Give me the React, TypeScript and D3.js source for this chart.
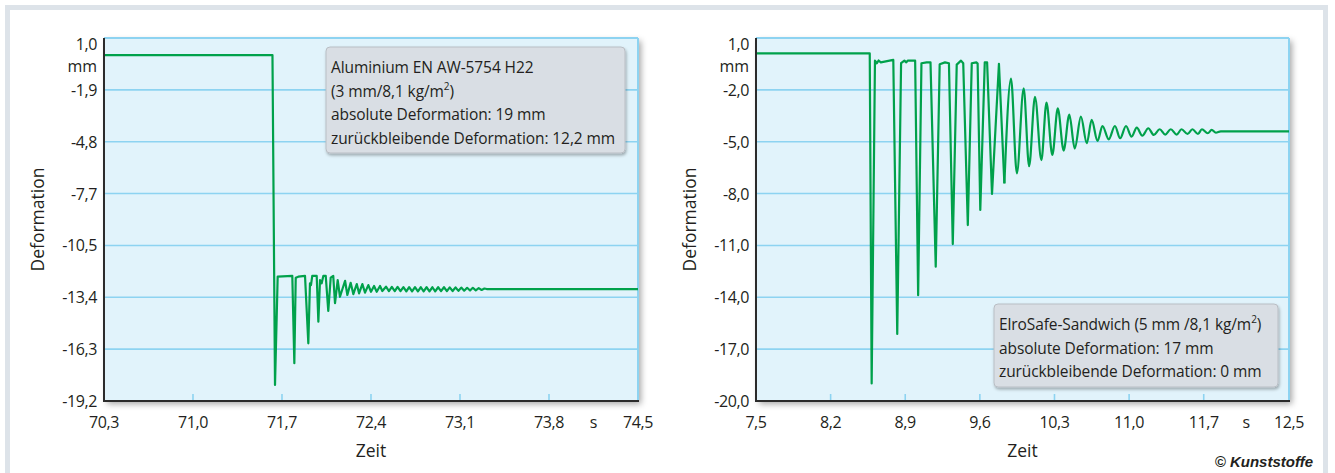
import React from "react";
import * as d3 from "d3";

// ---------- data ----------
const leftTime = [
  70.3, 71.625, 71.645, 71.666, 71.781, 71.797, 71.808, 71.828, 71.881, 71.907, 71.92, 71.928, 71.938,
  71.973, 71.986, 71.999, 72.012, 72.025, 72.044, 72.064, 72.083, 72.103, 72.117, 72.138, 72.156,
  72.196, 72.214, 72.24, 72.261, 72.288, 72.306, 72.332, 72.353, 72.379, 72.4, 72.424, 72.445, 72.471,
  72.489, 72.518, 72.541, 72.564, 72.587, 72.609, 72.632, 72.655, 72.678, 72.7, 72.723, 72.746, 72.769,
  72.792, 72.814, 72.837, 72.86, 72.883, 72.905, 72.928, 72.951, 72.974, 72.997, 73.019, 73.042, 73.065,
  73.088, 73.11, 73.133, 73.156, 73.179, 73.201, 73.224, 73.247, 73.27, 73.292, 73.31, 74.5,
];
const leftDeformation = [
  0.05, 0.05, -18.31, -12.28, -12.24, -17.1, -12.34, -12.28, -12.24, -15.99, -12.65, -12.75, -12.24,
  -12.24, -14.79, -12.47, -12.65, -12.24, -12.24, -14.19, -12.34, -12.24, -13.76, -12.47, -13.4,
  -12.51, -13.3, -12.62, -13.25, -12.69, -13.21, -12.69, -13.17, -12.75, -13.12, -12.8, -13.12, -12.8,
  -13.08, -12.84, -13.08, -12.85, -13.09, -12.85, -13.09, -12.86, -13.1, -12.86, -13.1, -12.86, -13.1,
  -12.87, -13.1, -12.87, -13.1, -12.87, -13.1, -12.87, -13.09, -12.87, -13.09, -12.88, -13.08, -12.88,
  -13.07, -12.89, -13.06, -12.9, -13.05, -12.9, -13.04, -12.92, -13.02, -12.94, -12.97, -12.97,
];

const rightTime = [
  7.5, 8.567, 8.585, 8.616, 8.634, 8.65, 8.671, 8.788, 8.825, 8.861, 8.892, 8.91, 8.923, 8.993, 9.021,
  9.052, 9.101, 9.137, 9.186, 9.223, 9.273, 9.31, 9.346, 9.383, 9.423, 9.444, 9.487, 9.524, 9.567, 9.579,
  9.604, 9.646, 9.668, 9.714, 9.779, 9.83, 9.892, 9.947, 10.011, 10.062, 10.117, 10.177, 10.225, 10.28,
  10.331, 10.386, 10.439, 10.49, 10.548, 10.603, 10.649, 10.704, 10.75, 10.809, 10.867, 10.916, 10.971,
  11.023, 11.072, 11.124, 11.18, 11.232, 11.287, 11.339, 11.391, 11.446, 11.492, 11.548, 11.594, 11.646,
  11.683, 11.738, 11.775, 11.814, 11.86, 12.5,
];
const rightDeformation = [
  0.11, 0.11, -18.98, -0.31, -0.46, -0.3, -0.41, -0.27, -16.12, -0.46, -0.31, -0.41, -0.31, -0.31, -13.88,
  -0.46, -0.41, -0.41, -12.23, -0.52, -0.41, -0.46, -10.92, -0.54, -0.31, -0.46, -9.82, -0.46, -0.41, -0.48,
  -8.95, -0.41, -0.41, -8.02, -0.49, -7.41, -1.35, -6.83, -1.91, -6.42, -2.4, -6.06, -2.74, -5.77,
  -3.07, -5.51, -3.43, -5.39, -3.55, -5.09, -3.74, -4.96, -4.09, -4.86, -4.09, -4.8, -4.09,
  -4.71, -4.19, -4.65, -4.22, -4.61, -4.28, -4.59, -4.28, -4.59, -4.28, -4.55, -4.28, -4.55,
  -4.28, -4.51, -4.32, -4.48, -4.4, -4.4,
];

const leftXTicks = ["70,3", "71,0", "71,7", "72,4", "73,1", "73,8", "74,5"];
const leftYTicks = ["1,0", "-1,9", "-4,8", "-7,7", "-10,5", "-13,4", "-16,3", "-19,2"];
const rightXTicks = ["7,5", "8,2", "8,9", "9,6", "10,3", "11,0", "11,7", "12,5"];
const rightYTicks = ["1,0", "-2,0", "-5,0", "-8,0", "-11,0", "-14,0", "-17,0", "-20,0"];

const leftLegend = [
  "Aluminium EN AW-5754 H22",
  "(3 mm/8,1 kg/m|2|)",
  "absolute Deformation: 19 mm",
  "zurückbleibende Deformation: 12,2 mm",
];
const rightLegend = [
  "ElroSafe-Sandwich (5 mm /8,1 kg/m|2|)",
  "absolute Deformation: 17 mm",
  "zurückbleibende Deformation: 0 mm",
];

const parseNum = (s: string) => parseFloat(s.replace(",", "."));

const FONT = "'Open Sans', sans-serif";
const TEXT = "#231f20";
const GRID = "#8dd3f1";
const LINE = "#00a14b";

type PanelProps = {
  id: string;
  left: number;
  right: number;
  time: number[];
  values: number[];
  smoothFrom: number;
  xTicks: string[];
  yTicks: string[];
  legend: string[];
  legendBox: { x: number; y: number; w: number; h: number };
  yLabelX: number;
};

function LegendLine({ text, x, y }: { text: string; x: number; y: number }) {
  const parts = text.split("|");
  return (
    <text x={x} y={y} fontFamily={FONT} fontSize={15.5} fill={TEXT} letterSpacing={-0.1}>
      {parts.map((p, i) =>
        i % 2 === 1 ? (
          <tspan key={i} baselineShift="super" fontSize={10}>
            {p}
          </tspan>
        ) : (
          <tspan key={i}>{p}</tspan>
        )
      )}
    </text>
  );
}

function Panel(p: PanelProps) {
  const top = 38;
  const bottom = 401;
  const xVals = p.xTicks.map(parseNum);
  const yVals = p.yTicks.map(parseNum);
  const yMax = yVals[0];
  const yMin = yVals[yVals.length - 1];
  const x = d3.scaleLinear().domain([xVals[0], xVals[xVals.length - 1]]).range([p.left, p.right]);
  const y = d3.scaleLinear().domain([yMin, yMax]).range([bottom, top]);
  // evenly spaced y ticks (labels are rounded)
  const yTickVals = yVals.map((_, i) => yMax - (i * (yMax - yMin)) / (yVals.length - 1));
  const xTickVals = xVals;
  const pts: [number, number][] = p.time.map((t, i) => [x(t), y(p.values[i])]);
  const sharp = pts.filter((_, i) => p.time[i] <= p.smoothFrom);
  const smooth = pts.filter((_, i) => p.time[i] >= p.smoothFrom);
  const sharpPath = d3.line().curve(d3.curveLinear)(sharp) || "";
  const smoothPath = smooth.length > 1 ? d3.line().curve(d3.curveMonotoneX)(smooth) || "" : "";
  const n = xTickVals.length;
  const sX = (x(xTickVals[n - 2]) + x(xTickVals[n - 1])) / 2;
  const cx = (p.left + p.right) / 2;
  return (
    <g>
      <rect
        x={p.left}
        y={top}
        width={p.right - p.left}
        height={bottom - top}
        fill="#e1f3fb"
        filter="url(#plotShadow)"
      />
      {yTickVals.slice(1, -1).map((v, i) => (
        <line key={i} x1={p.left} x2={p.right} y1={y(v)} y2={y(v)} stroke={GRID} strokeWidth={1.6} />
      ))}
      {xTickVals.slice(1, -1).map((v, i) => (
        <line key={i} x1={x(v)} x2={x(v)} y1={bottom - 7} y2={bottom} stroke={GRID} strokeWidth={1.6} />
      ))}
      <line x1={p.left} x2={p.right} y1={top} y2={top} stroke={GRID} strokeWidth={2} />
      <line x1={p.right} x2={p.right} y1={top} y2={bottom} stroke={GRID} strokeWidth={2} />
      <clipPath id={"clip" + p.id}>
        <rect x={p.left} y={top} width={p.right - p.left} height={bottom - top} />
      </clipPath>
      <g clipPath={`url(#clip${p.id})`} fill="none" stroke={LINE} strokeWidth={2.2} strokeLinejoin="round">
        <path d={sharpPath} />
        {smoothPath && <path d={smoothPath} />}
      </g>
      <line x1={p.left} x2={p.left} y1={top} y2={bottom + 1} stroke="#2b2b2b" strokeWidth={2} />
      <line x1={p.left - 1} x2={p.right + 1} y1={bottom} y2={bottom} stroke="#2b2b2b" strokeWidth={2} />
      {/* y tick labels */}
      {yTickVals.map((v, i) => (
        <text
          key={i}
          x={p.left - 7}
          y={i === 0 ? y(v) + 6 : y(v)}
          textAnchor="end"
          dominantBaseline="central"
          fontFamily={FONT}
          fontSize={16}
          fill={TEXT}
          letterSpacing={-0.4}
        >
          {p.yTicks[i]}
        </text>
      ))}
      <text x={p.left - 7} y={66} textAnchor="end" dominantBaseline="central" fontFamily={FONT} fontSize={16} fill={TEXT}>
        mm
      </text>
      {/* x tick labels */}
      {xTickVals.map((v, i) => (
        <text
          key={i}
          x={x(v)}
          y={422}
          textAnchor="middle"
          dominantBaseline="central"
          fontFamily={FONT}
          fontSize={16}
          fill={TEXT}
          letterSpacing={-0.4}
        >
          {p.xTicks[i]}
        </text>
      ))}
      <text x={sX} y={422} textAnchor="middle" dominantBaseline="central" fontFamily={FONT} fontSize={16} fill={TEXT}>
        s
      </text>
      <text x={cx} y={450} textAnchor="middle" dominantBaseline="central" fontFamily={FONT} fontSize={17.5} fill={TEXT}>
        Zeit
      </text>
      <text
        transform={`translate(${p.yLabelX},${(top + bottom) / 2}) rotate(-90)`}
        textAnchor="middle"
        dominantBaseline="central"
        fontFamily={FONT}
        fontSize={17.5}
        fill={TEXT}
      >
        Deformation
      </text>
      {/* legend */}
      <rect
        x={p.legendBox.x}
        y={p.legendBox.y}
        width={p.legendBox.w}
        height={p.legendBox.h}
        rx={4}
        fill="#d9dee4"
        stroke="#b9bec4"
        strokeWidth={1}
        filter="url(#boxShadow)"
      />
      {p.legend.map((t, i) => (
        <LegendLine key={i} text={t} x={p.legendBox.x + 5} y={p.legendBox.y + 26 + i * 23.5} />
      ))}
    </g>
  );
}

export default function App() {
  return (
    <svg width={1335} height={473} style={{ position: "absolute", left: 0, top: 0, background: "#fff" }}>
      <defs>
        <filter id="plotShadow" x="-5%" y="-5%" width="115%" height="115%">
          <feDropShadow dx={3} dy={3} stdDeviation={3} floodColor="#000" floodOpacity={0.35} />
        </filter>
        <filter id="boxShadow" x="-5%" y="-5%" width="115%" height="120%">
          <feDropShadow dx={1} dy={2} stdDeviation={1.5} floodColor="#000" floodOpacity={0.3} />
        </filter>
      </defs>
      <rect x={0} y={0} width={1335} height={473} fill="#fff" />
      <rect x={5} y={5} width={1323} height={5} fill="#dde3e9" />
      <rect x={5} y={5} width={5} height={468} fill="#dde3e9" />
      <rect x={1323} y={5} width={5} height={468} fill="#dde3e9" />
      <Panel
        id="L"
        left={104}
        right={638}
        time={leftTime}
        values={leftDeformation}
        smoothFrom={74.5}
        xTicks={leftXTicks}
        yTicks={leftYTicks}
        legend={leftLegend}
        legendBox={{ x: 326, y: 47, w: 299, h: 106 }}
        yLabelX={37}
      />
      <Panel
        id="R"
        left={756}
        right={1289}
        time={rightTime}
        values={rightDeformation}
        smoothFrom={9.83}
        xTicks={rightXTicks}
        yTicks={rightYTicks}
        legend={rightLegend}
        legendBox={{ x: 994, y: 304, w: 284, h: 83 }}
        yLabelX={689}
      />
      <text
        x={1313}
        y={467}
        textAnchor="end"
        fontFamily="'Liberation Sans', Arial, sans-serif"
        fontWeight="bold"
        fontStyle="italic"
        fontSize={15}
        fill={TEXT}
      >
        © Kunststoffe
      </text>
    </svg>
  );
}
